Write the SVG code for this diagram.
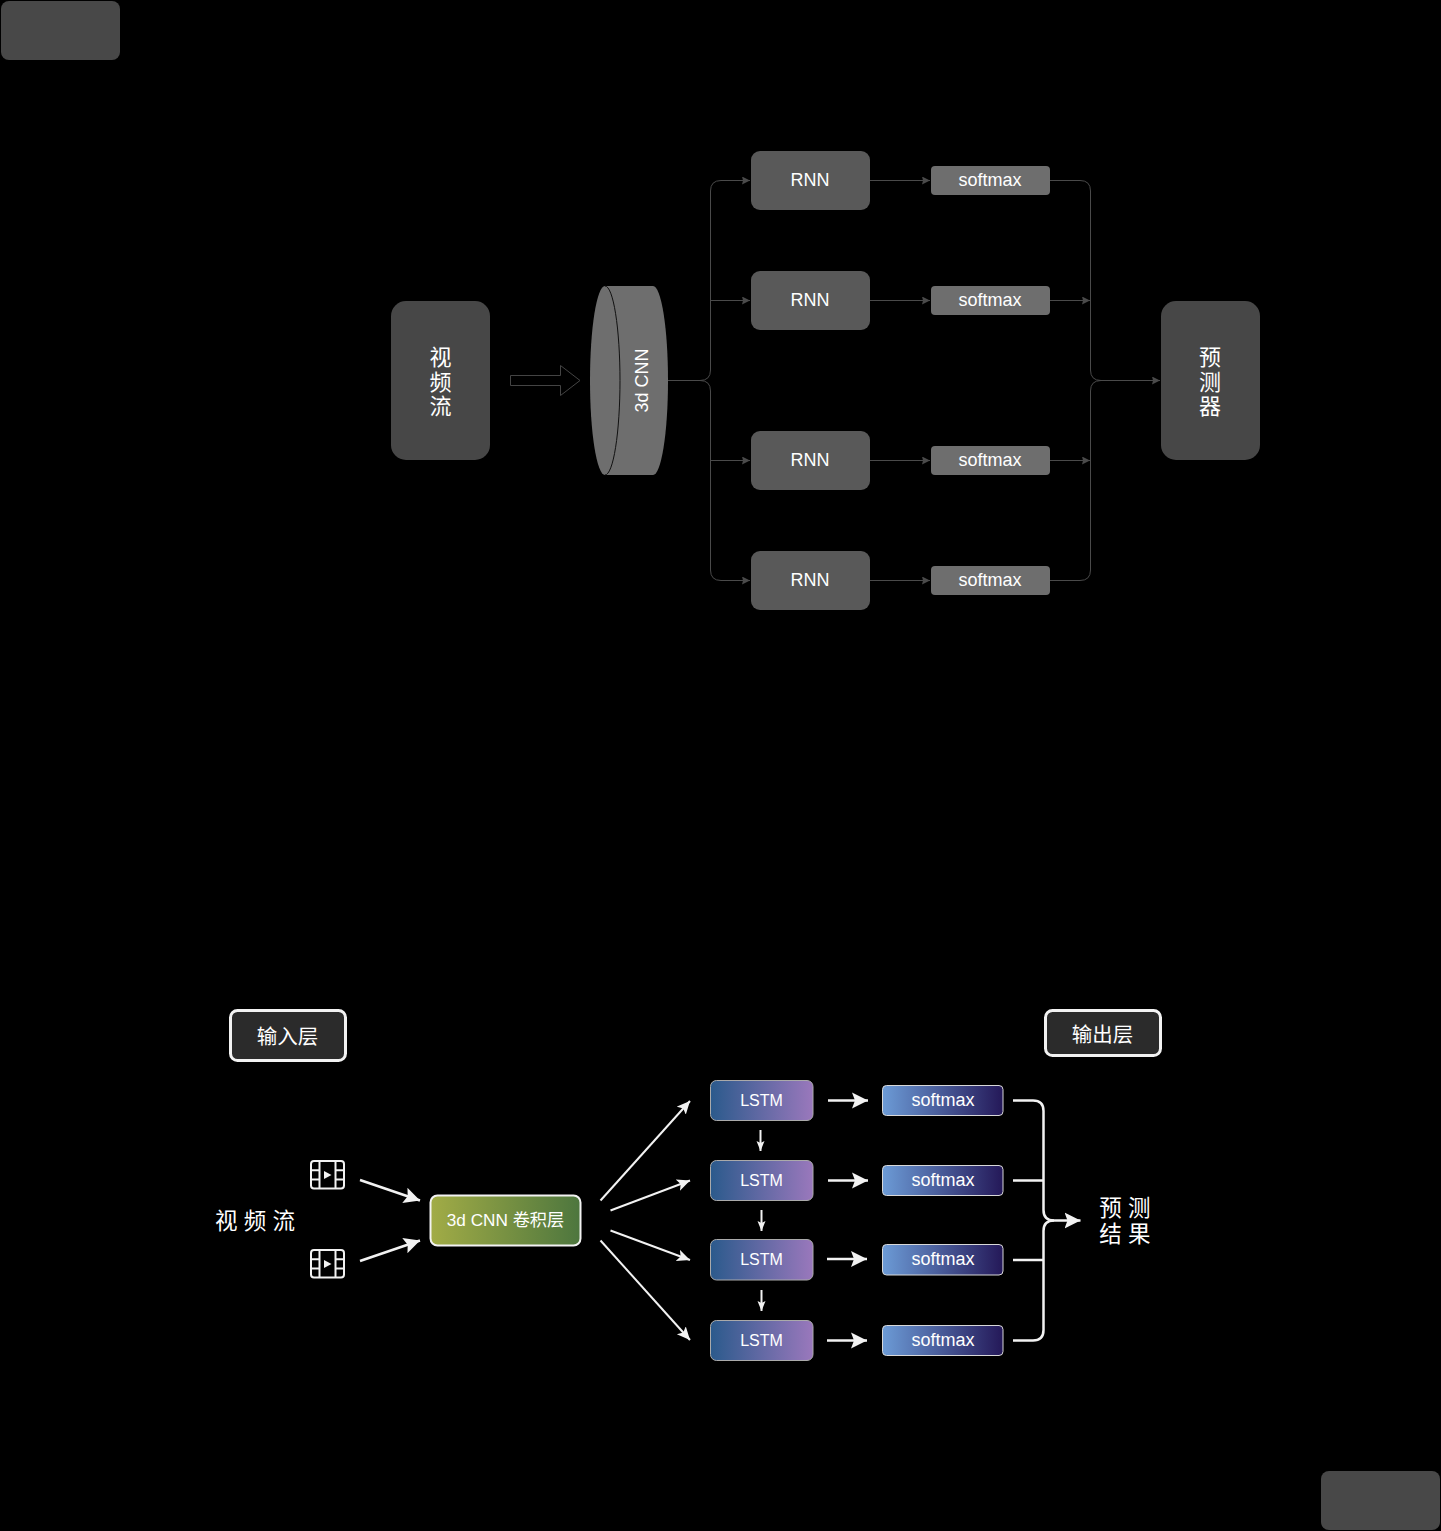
<svg xmlns="http://www.w3.org/2000/svg" width="1441" height="1531" viewBox="0 0 1441 1531">
<style>
text{font-family:"Liberation Sans","Noto Sans CJK SC",sans-serif;fill:#fff;text-anchor:middle;dominant-baseline:central}
.t{font-size:18px}
.cn{font-size:22px}
.dk{fill:#595959}
.sm{fill:#6e6e6e}
.big{fill:#474747}
.c1{fill:none;stroke:#4a4a4a;stroke-width:1}
.w{fill:none;stroke:#f2f2f2;stroke-width:2}
.w3{fill:none;stroke:#f2f2f2;stroke-width:2.5}
.lstm{fill:url(#gl);stroke:#aaa;stroke-width:1}
.soft{fill:url(#gs);stroke:#d8d8d8;stroke-width:1}
.lab{fill:#2b2b2b;stroke:#f2f2f2;stroke-width:3}
.ic{fill:none;stroke:#f2f2f2;stroke-width:2}
</style>
<defs>
<linearGradient id="gl"><stop offset="0" stop-color="#2b5a8c"/><stop offset="1" stop-color="#9a78bc"/></linearGradient>
<linearGradient id="gs"><stop offset="0" stop-color="#6c9bd6"/><stop offset="1" stop-color="#241858"/></linearGradient>
<linearGradient id="gc"><stop offset="0" stop-color="#a2ac46"/><stop offset="1" stop-color="#4d763e"/></linearGradient>
<marker id="a1" markerUnits="userSpaceOnUse" markerWidth="9" markerHeight="9" refX="8" refY="4" orient="auto"><path d="M0 0L8 4L0 8L1 4Z" fill="#4a4a4a"/></marker>
<marker id="a2" markerUnits="userSpaceOnUse" markerWidth="17" markerHeight="17" refX="16" refY="8.500" orient="auto"><path d="M0 0.500L16 8.500L0 16.500L3 8.500Z" fill="#f2f2f2"/></marker>
<marker id="a4" markerUnits="userSpaceOnUse" markerWidth="14" markerHeight="14" refX="13" refY="6.500" orient="auto"><path d="M0 0.500L13 6.500L0 12.500L3 6.500Z" fill="#f2f2f2"/></marker>
<marker id="a3" markerUnits="userSpaceOnUse" markerWidth="11" markerHeight="9" refX="10" refY="4" orient="auto"><path d="M0 0L10 4L0 8L2 4Z" fill="#f2f2f2"/></marker>
<symbol id="film" viewBox="0 0 36 30" width="36" height="30"><rect x="1" y="1" width="33" height="27.500" rx="3" class="ic"/><path d="M9.500 1V28.500M25.500 1V28.500M1 10.200H9.500M1 19.500H9.500M25.500 10.200H34M25.500 19.500H34" class="ic"/><path d="M14 11L21.500 15L14 19Z" fill="#f2f2f2"/></symbol>
</defs>
<rect width="1441" height="1531" fill="#000"/>
<g id="corner-top"><rect x="1" y="1" width="119" height="59" rx="8" fill="#484848"/></g>
<g id="corner-bottom"><rect x="1321" y="1471" width="119" height="59" rx="8" fill="#484848"/></g>
<g id="connectors-top">
<path class="c1" d="M668 380.500H700Q710.500 380.500 710.500 370V191Q710.500 180.500 721 180.500H750" marker-end="url(#a1)"/>
<path class="c1" d="M710.500 300.500H750" marker-end="url(#a1)"/>
<path class="c1" d="M700 380.500Q710.500 380.500 710.500 391V570Q710.500 580.500 721 580.500H750" marker-end="url(#a1)"/>
<path class="c1" d="M710.500 460.500H750" marker-end="url(#a1)"/>
<path class="c1" d="M870 180.500H930" marker-end="url(#a1)"/>
<path class="c1" d="M870 300.500H930" marker-end="url(#a1)"/>
<path class="c1" d="M870 460.500H930" marker-end="url(#a1)"/>
<path class="c1" d="M870 580.500H930" marker-end="url(#a1)"/>
<path class="c1" d="M1050 180.500H1080Q1090.500 180.500 1090.500 191V370Q1090.500 380.500 1101 380.500H1160" marker-end="url(#a1)"/>
<path class="c1" d="M1050 580.500H1080Q1090.500 580.500 1090.500 570V391Q1090.500 380.500 1101 380.500"/>
<path class="c1" d="M1050 300.500H1090" marker-end="url(#a1)"/>
<path class="c1" d="M1050 460.500H1090" marker-end="url(#a1)"/>
<path d="M510.500 375.500H560.500V365.500L580 380.500L560.500 395.500V385.500H510.500Z" fill="none" stroke="#444"/>
</g>
<g id="video"><rect x="391" y="301" width="99" height="159" rx="15" class="big"/><text x="440.500" y="357.500" class="cn">视</text><text x="440.500" y="382" class="cn">频</text><text x="440.500" y="406.500" class="cn">流</text></g>
<g id="cnn3d">
<path d="M605 286H653A15 94.500 0 0 1 653 475H605A15 94.500 0 0 1 605 286Z" fill="#6e6e6e"/>
<path d="M605 286A15 94.500 0 0 1 605 475" fill="none" stroke="#111"/>
<text class="t" transform="translate(641.500 380.500) rotate(-90)">3d CNN</text></g>
<g id="rnn1"><rect x="751" y="151" width="119" height="59" rx="9" class="dk"/><text x="810" y="180" class="t">RNN</text></g>
<g id="rnn2"><rect x="751" y="271" width="119" height="59" rx="9" class="dk"/><text x="810" y="300" class="t">RNN</text></g>
<g id="rnn3"><rect x="751" y="431" width="119" height="59" rx="9" class="dk"/><text x="810" y="460" class="t">RNN</text></g>
<g id="rnn4"><rect x="751" y="551" width="119" height="59" rx="9" class="dk"/><text x="810" y="580" class="t">RNN</text></g>
<g id="soft1"><rect x="931" y="166" width="119" height="29" rx="4" class="sm"/><text x="990" y="180" class="t">softmax</text></g>
<g id="soft2"><rect x="931" y="286" width="119" height="29" rx="4" class="sm"/><text x="990" y="300" class="t">softmax</text></g>
<g id="soft3"><rect x="931" y="446" width="119" height="29" rx="4" class="sm"/><text x="990" y="460" class="t">softmax</text></g>
<g id="soft4"><rect x="931" y="566" width="119" height="29" rx="4" class="sm"/><text x="990" y="580" class="t">softmax</text></g>
<g id="predictor"><rect x="1161" y="301" width="99" height="159" rx="15" class="big"/><text x="1210" y="357.500" class="cn">预</text><text x="1210" y="382" class="cn">测</text><text x="1210" y="406.500" class="cn">器</text></g>

<g id="connectors-bottom">
<path class="w3" d="M360 1180L420 1200.500" marker-end="url(#a2)"/>
<path class="w3" d="M360 1261L420 1240.500" marker-end="url(#a2)"/>
<path class="w" d="M600.500 1200.500L690 1101" marker-end="url(#a4)"/>
<path class="w" d="M610.500 1210.500L690 1180.500" marker-end="url(#a4)"/>
<path class="w" d="M610.500 1230.500L690 1260" marker-end="url(#a4)"/>
<path class="w" d="M600.500 1240.500L690 1340" marker-end="url(#a4)"/>
<path class="w3" d="M828 1100.500H868" marker-end="url(#a2)"/>
<path class="w3" d="M828 1180.500H868" marker-end="url(#a2)"/>
<path class="w3" d="M827 1259H867" marker-end="url(#a2)"/>
<path class="w3" d="M827 1340.500H867" marker-end="url(#a2)"/>
<path class="w" d="M760.500 1130V1151" marker-end="url(#a3)"/>
<path class="w" d="M761.500 1210V1231" marker-end="url(#a3)"/>
<path class="w" d="M761.500 1290V1311" marker-end="url(#a3)"/>
<path class="w3" d="M1013 1100.500H1033Q1043.500 1100.500 1043.500 1111V1210Q1043.500 1220.500 1054 1220.500H1080.500" marker-end="url(#a2)"/>
<path class="w3" d="M1013 1340.500H1033Q1043.500 1340.500 1043.500 1330V1231Q1043.500 1220.500 1054 1220.500"/>
<path class="w3" d="M1013 1180.500H1043M1013 1260H1043"/>
</g>
<g id="input-label"><rect x="230.500" y="1010.500" width="115" height="50" rx="7" class="lab"/><text x="287.500" y="1036" style="font-size:20.500px">输入层</text></g>
<g id="output-label"><rect x="1045.500" y="1010.500" width="115" height="45" rx="7" class="lab"/><text x="1102.500" y="1034" style="font-size:20.500px">输出层</text></g>
<g id="video-label"><text x="255" y="1221" style="font-size:22.500px" xml:space="preserve">视 频 流</text></g>
<g id="film1"><use href="#film" x="310" y="1160"/></g>
<g id="film2"><use href="#film" x="310" y="1249"/></g>
<g id="cnn-layer"><rect x="430.500" y="1195.500" width="150" height="50" rx="7" fill="url(#gc)" stroke="#f2f2f2" stroke-width="2"/><text x="505.500" y="1220" style="font-size:17.200px">3d CNN 卷积层</text></g>
<g id="lstm1"><rect x="710.500" y="1080.500" width="102.500" height="40" rx="6" class="lstm"/><text x="761.500" y="1100" style="font-size:16px">LSTM</text></g>
<g id="lstm2"><rect x="710.500" y="1160.500" width="102.500" height="40" rx="6" class="lstm"/><text x="761.500" y="1180" style="font-size:16px">LSTM</text></g>
<g id="lstm3"><rect x="710.500" y="1239.500" width="102.500" height="40.500" rx="6" class="lstm"/><text x="761.500" y="1259" style="font-size:16px">LSTM</text></g>
<g id="lstm4"><rect x="710.500" y="1320.500" width="102.500" height="40" rx="6" class="lstm"/><text x="761.500" y="1340" style="font-size:16px">LSTM</text></g>
<g id="gsoft1"><rect x="882.500" y="1085.500" width="120.500" height="30" rx="4" class="soft"/><text x="943" y="1100" class="t">softmax</text></g>
<g id="gsoft2"><rect x="882.500" y="1165.500" width="120.500" height="30" rx="4" class="soft"/><text x="943" y="1180" class="t">softmax</text></g>
<g id="gsoft3"><rect x="882.500" y="1244.500" width="120.500" height="30.500" rx="4" class="soft"/><text x="943" y="1259" class="t">softmax</text></g>
<g id="gsoft4"><rect x="882.500" y="1325.500" width="120.500" height="30" rx="4" class="soft"/><text x="943" y="1340" class="t">softmax</text></g>
<g id="result"><text x="1125" y="1208" style="font-size:22.500px">预 测</text><text x="1125" y="1234" style="font-size:22.500px">结 果</text></g>
</svg>
